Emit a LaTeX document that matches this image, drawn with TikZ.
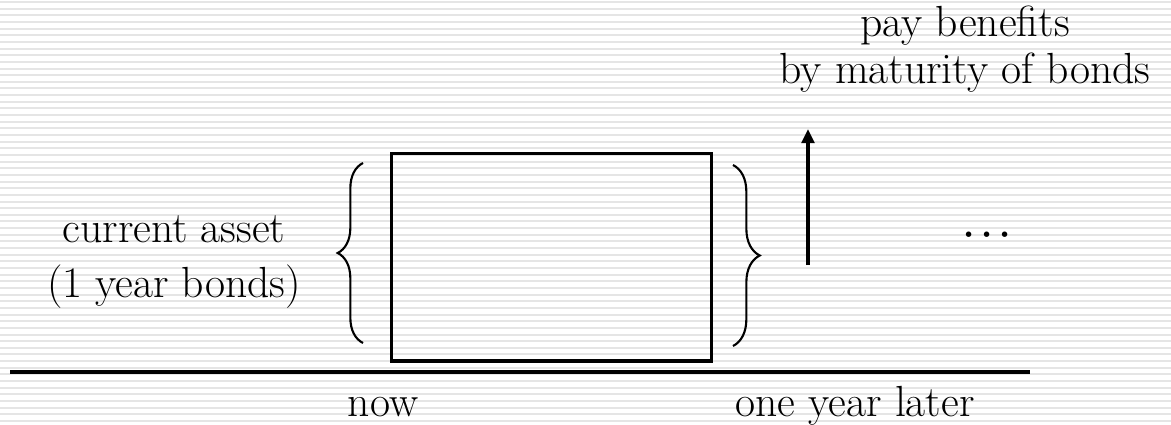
\documentclass[tikz,border=0pt]{standalone}
\usepackage{tikz}
\usetikzlibrary{arrows.meta,positioning,decorations.pathreplacing}
\tikzset{
  txt/.style={font=\fontsize{31}{39}\selectfont, align=center, inner sep=0pt},
  brc/.style={decorate, decoration={brace, amplitude=#1}, line width=1.5pt},
}

\begin{document}
\begin{tikzpicture}[x=0.025cm, y=0.025cm]
        \useasboundingbox (0,0) rectangle (1171,424);
        % Fundo listrado
        \fill[white] (0,0) rectangle (1171,424);
        \foreach \i in {0,...,63}
            \fill[gray!20] (0,{423-\i*6.65}) rectangle (1171,{421-\i*6.65});
        % Linha do tempo
        \draw[line width=2.4pt] (10,52) -- (1030,52);
        % Bloco do ativo atual
        \node[draw, line width=2.4pt, minimum width=8cm, minimum height=5.19cm, inner sep=0pt]
            (asset) at (551.7,166.9) {};
        % Chaves
        \coordinate (lbot) at (363,81);
        \coordinate (ltop) at (363,261);
        \draw[brc=18pt] (lbot) -- (ltop);
        \coordinate (rtop) at (733,259);
        \coordinate (rbot) at (733,78);
        \draw[brc=19pt] (rtop) -- (rbot);
        % Seta de pagamento
        \coordinate (foot) at (808,159);
        \coordinate (tip) at (808,295);
        \draw[line width=2.4pt, -{Triangle[length=10pt, width=9pt]}] (foot) -- (tip);
        \node[txt, font=\fontsize{31}{39}\selectfont\boldmath] (more) at (987,189) {$\cdots$};
        % Textos
        \node[txt, anchor=base] (cur) at (174,127) {current asset\\(1 year bonds)};
        \node[txt, anchor=base, font=\fontsize{31}{33}\selectfont] (pay) at (965,341)
            {pay benefits\\by maturity of bonds};
        \node[txt, anchor=base] (now) at (383,8) {now};
        \node[txt, anchor=base] (later) at (855,8) {one year later};
    \end{tikzpicture}
\end{document}
